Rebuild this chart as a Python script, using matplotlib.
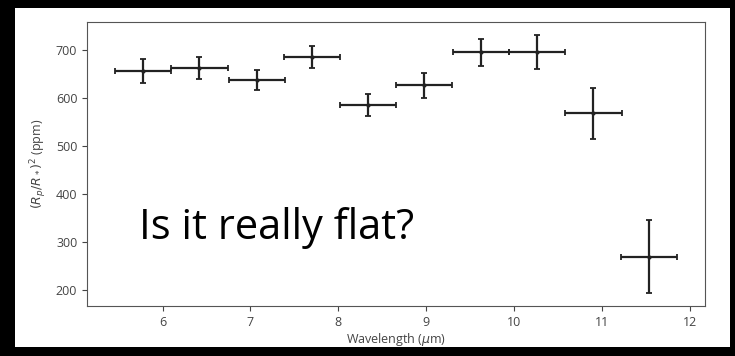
import matplotlib
matplotlib.use("Agg")
import matplotlib.pyplot as plt
from matplotlib.patches import Rectangle

# Binned transit depths
wavelength = [5.78, 6.42, 7.07, 7.70, 8.34, 8.97, 9.62, 10.26, 10.90, 11.53]
bin_halfwidth = [0.32, 0.32, 0.32, 0.32, 0.32, 0.32, 0.32, 0.32, 0.32, 0.32]
depth = [655, 662, 637, 685, 584, 626, 695, 695, 568, 269]
depth_err = [25, 22, 21, 22, 23, 26, 28, 36, 53, 76]
yticks = [200, 300, 400, 500, 600, 700]
xticks = [6, 7, 8, 9, 10, 11, 12]

plt.rcParams['font.family'] = ['Open Sans', 'DejaVu Sans']
plt.rcParams['mathtext.fontset'] = 'dejavusans'

fig = plt.figure(figsize=(7.35, 3.56), dpi=100, facecolor='black')
# white slide panel, drawn beneath the axes
fig.patches.append(Rectangle((15 / 735, 1 - 347 / 356), (730 - 15) / 735, (347 - 8) / 356,
                             transform=fig.transFigure, facecolor='white',
                             edgecolor='none', zorder=-5))

ax = fig.add_axes([87 / 735, 1 - 306 / 356, (705 - 87) / 735, (306 - 22) / 356])
ax.errorbar(wavelength, depth, xerr=bin_halfwidth, yerr=depth_err, fmt='.',
            color='#222222', ms=4, lw=1.6, capsize=2.5, capthick=1.3)

ax.set_xticks(xticks)
ax.set_yticks(yticks)
ax.tick_params(labelsize=9, colors='#444444', length=3.5, width=0.8)
for s in ax.spines.values():
    s.set_color('#555555')
    s.set_linewidth(0.8)
ax.set_xlabel(r'Wavelength ($\mu$m)', fontsize=9, color='#444444', labelpad=2)
ax.set_ylabel(r'$(R_p/R_*)^2$ (ppm)', fontsize=9, color='#444444', labelpad=5)

# slide annotation: baseline at y=239 px, left edge at x=139 px
ax.text((139 - 87) / 618, (306 - 239) / 284, 'Is it really flat?', transform=ax.transAxes,
        fontsize=30, color='black', family=['Open Sans', 'DejaVu Sans'])

fig.savefig('out.png', dpi=100, facecolor='black')
